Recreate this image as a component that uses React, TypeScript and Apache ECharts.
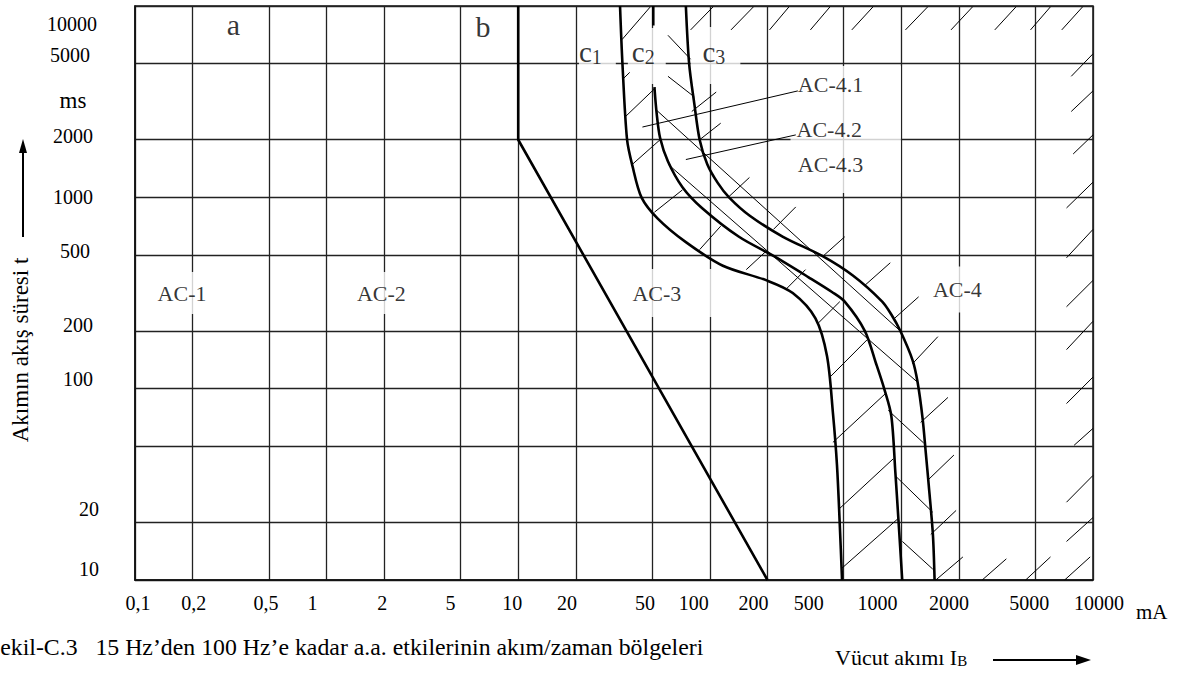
import React, { useEffect, useRef } from 'react';
import * as echarts from 'echarts';

const FONT = 'Liberation Serif, Times New Roman, serif';

// Axis ticks (mA and ms)
const xTicks = [0.1, 0.2, 0.5, 1, 2, 5, 10, 20, 50, 100, 200, 500, 1000, 2000, 5000, 10000];
const yTicks = [10, 20, 50, 100, 200, 500, 1000, 2000, 5000, 10000];
const yLabelValues = [10, 20, 100, 200, 500, 1000, 2000, 5000, 10000];

// Boundary curves [current mA, time ms]
const curveB = [[10, 10000], [10, 2000], [200, 10]];
const curveC1 = [[34, 10000], [35, 5000], [37, 2000], [39.5, 1455], [44, 1000], [53.5, 774], [75, 583], [117, 439], [198, 368], [271, 316], [356, 233], [409, 148], [439, 75], [461, 40], [477, 19.3], [490, 10]];
const curveC2Top = [[50.7, 10000], [50.7, 7900]];
const curveC2 = [[51.4, 3770], [52.8, 2750], [55, 2050], [60.5, 1540], [72, 1130], [91, 880], [142, 622], [215, 494], [328, 382], [434, 320], [506, 285], [645, 200], [738, 135], [813, 100], [886, 72], [930, 36.5], [964, 21], [1010, 10]];
const curveC3 = [[75, 10000], [78, 5000], [83, 3090], [88.5, 2000], [97, 1490], [110, 1190], [126, 1000], [161, 804], [241, 622], [386, 494], [558, 390], [794, 285], [886, 244], [988, 200], [1143, 141], [1215, 108], [1290, 70], [1340, 46.5], [1390, 31], [1460, 17.3], [1490, 10]];

// Hatch strokes [[mA, ms], [mA, ms]]
const hatchC1C2 = [
  [[34.8, 6670], [48.8, 9870]], [[35.1, 4140], [38.2, 4500]], [[36.4, 2650], [52, 3730]],
  [[39.5, 1490], [55, 2000]], [[51.4, 836], [72, 1094]], [[88.5, 533], [114, 707]],
  [[155, 419], [198, 526]], [[250, 331], [316, 419]], [[368, 220], [477, 285]],
  [[424, 115], [662, 180]], [[439, 52.4], [823, 94]], [[477, 23.7], [907, 43]], [[488, 11.5], [964, 21]],
];
const hatchC2C3 = [
  [[60.5, 7030], [79.4, 5270]], [[60.5, 4290], [83, 3350]], [[52.8, 2850], [988, 200]],
  [[60.5, 1490], [1215, 108]], [[854, 77], [1307, 52]], [[930, 35], [1458, 22.6]], [[1012, 15.9], [1458, 11.4]],
];
const hatchC3Out = [
  [[80.5, 2810], [108, 3550]], [[88.5, 2000], [114, 2440]], [[126, 1010], [161, 1270]],
  [[215, 680], [281, 891]], [[391, 494], [506, 622]], [[645, 347], [875, 455]],
  [[907, 230], [1230, 302]], [[1143, 135], [1550, 187]], [[1260, 66.6], [1750, 90]],
  [[1372, 33.2], [1880, 45]], [[1423, 17.3], [1930, 23.1]],
];
const hatchTop = [
  [[79.4, 7500], [104, 9900]], [[129, 7500], [169, 9900]], [[205, 7500], [259, 9900]],
  [[335, 7500], [424, 9900]], [[551, 7500], [711, 9900]], [[1050, 7500], [1372, 9900]],
  [[1815, 7500], [2352, 9900]], [[3072, 7500], [3964, 9900]], [[4719, 7500], [5995, 9900]], [[6870, 7500], [8827, 9900]],
];
const hatchRight = [
  [[7700, 4290], [10000, 5625]], [[7700, 2810], [10000, 3600]], [[7880, 1685], [10000, 2120]],
  [[7275, 880], [10000, 1200]], [[7275, 483], [10000, 680]], [[7275, 268], [10000, 368]],
  [[7275, 160], [10000, 225]], [[7275, 83.6], [10000, 115]], [[7970, 50.6], [10000, 62]],
  [[7275, 25.5], [10000, 35.2]], [[7275, 15.9], [10000, 21.2]],
];
const hatchBottom = [
  [[1512, 10], [2094, 13.2]], [[2640, 10], [3530, 12.9]], [[4450, 10], [6000, 13.2]], [[7110, 10], [9665, 13.2]],
];
const leaders = [[[44.5, 2330], [288, 3600]], [[75, 1576], [281, 2120]]];

// Zone labels and their anchors [mA, ms]
const zoneLabels = ['a', 'b', 'AC-1', 'AC-2', 'AC-3', 'AC-4', 'AC-4.2', 'AC-4.1', 'AC-4.3'];
const zoneAnchors = [[0.326, 8000], [6.55, 7800], [0.176, 316], [1.93, 316], [63, 316], [1960, 330], [512, 2260], [288, 3900], [288, 1490]];
const curveLabels = ['1', '2', '3'];
const curveLabelAnchors = [[25.9, 5625], [46.9, 5480], [107, 5510]];

// ---- styles (not data) ----
const xLabelShift = [3, 1, -3, -14, -2, -10, -6, -9, -7, -16, -14, -35, -24, -10, -6, 6];
const yLabelPadR = [0, 0, 6, 6, 9, 6, 6, 9, 2];
const yLabelDy = [-11, -13, -10, -6, -4, 0, -4, -9, 18];

const zoneStyle: Record<string, any> = {
  'a': { fontSize: 30, backgroundColor: 'transparent' },
  'b': { fontSize: 30, backgroundColor: 'transparent' },
  'AC-1': { padding: [9, 4, 11, 4] },
  'AC-2': { padding: [9, 4, 11, 4] },
  'AC-3': { padding: [9, 34, 17, 5] },
  'AC-4': { padding: [7, 4, 17, 4] },
  'AC-4.2': { padding: [47, 39, 58, 6] },
  'AC-4.1': { align: 'left', backgroundColor: 'transparent' },
  'AC-4.3': { align: 'left', backgroundColor: 'transparent' },
};
const curveLabelPad = [[5, 14, 9, 0], [9, 11, 17, 4], [10, 15, 17, 12]];

function nearestIndex(arr: number[], v: number) {
  let best = 0;
  for (let i = 0; i < arr.length; i++) {
    if (Math.abs(Math.log10(arr[i]) - Math.log10(v)) < Math.abs(Math.log10(arr[best]) - Math.log10(v))) best = i;
  }
  return best;
}

function buildOption() {
  const xRich: Record<string, any> = {};
  xTicks.forEach((_, i) => {
    const s = xLabelShift[i];
    xRich['x' + i] = {
      fontSize: 20, fontFamily: FONT, color: '#000', lineHeight: 20,
      padding: s >= 0 ? [0, 0, 0, 2 * s] : [0, -2 * s, 0, 0],
    };
  });
  const yRich: Record<string, any> = {};
  yLabelValues.forEach((_, i) => {
    const dy = yLabelDy[i];
    yRich['y' + i] = {
      fontSize: 20, fontFamily: FONT, color: '#000', lineHeight: 20,
      padding: [dy > 0 ? 2 * dy : 0, yLabelPadR[i], dy < 0 ? -2 * dy : 0, 0],
    };
  });

  const toLines = (arr: number[][][]) => arr.map((c) => ({ coords: c }));

  const zoneData = zoneLabels.map((name, i) => {
    const st = zoneStyle[name] || {};
    return {
      name,
      value: zoneAnchors[i],
      label: {
        show: true,
        position: 'inside',
        formatter: name,
        fontSize: st.fontSize || 22,
        lineHeight: st.fontSize || 22,
        fontFamily: FONT,
        color: '#000',
        backgroundColor: st.backgroundColor || '#fff',
        padding: st.padding || 0,
        align: st.align || 'center',
        verticalAlign: 'middle',
      },
    };
  });
  const cData = curveLabels.map((n, i) => ({
    name: 'c' + n,
    value: curveLabelAnchors[i],
    label: {
      show: true,
      position: 'inside',
      formatter: '{c|c}{s|' + n + '}',
      backgroundColor: '#fff',
      padding: curveLabelPad[i],
      align: 'center',
      verticalAlign: 'middle',
      rich: {
        c: { fontSize: 29, lineHeight: 30, fontFamily: FONT, color: '#000' },
        s: { fontSize: 20, lineHeight: 20, fontFamily: FONT, color: '#000', verticalAlign: 'bottom' },
      },
    },
  }));

  const curveStyle = { color: '#000', width: 2.6 };
  const smoothCurve = { type: 'line', z: 5, silent: true, symbol: 'none', smooth: 0.3, lineStyle: curveStyle };

  return {
    animation: false,
    textStyle: { fontFamily: FONT },
    grid: {
      left: 135, right: 88, top: 6, bottom: 93, show: true, borderColor: '#111', borderWidth: 1.5,
      backgroundColor: 'transparent', containLabel: false, outerBoundsMode: 'none',
    },
    xAxis: {
      type: 'log', logBase: 10, min: 0.1, max: 10000,
      axisLine: { show: true, lineStyle: { color: '#111', width: 1.5 } },
      axisTick: { show: false, customValues: xTicks },
      splitLine: { show: true, lineStyle: { color: '#222', width: 1.3 } },
      axisLabel: {
        customValues: xTicks, margin: 13, color: '#000', fontFamily: FONT, fontSize: 20,
        showMinLabel: true, showMaxLabel: true, hideOverlap: false,
        formatter: (v: number) => {
          const i = nearestIndex(xTicks, v);
          const t = String(xTicks[i]).replace('.', ',');
          return '{x' + i + '|' + t + '}';
        },
        rich: xRich,
      },
      name: 'mA', nameLocation: 'end', nameGap: 43, nameMoveOverlap: false,
      nameTextStyle: { fontSize: 21, fontFamily: FONT, color: '#000', align: 'left', verticalAlign: 'top', padding: [21, 0, 0, 0] },
    },
    yAxis: {
      type: 'log', logBase: 10, min: 10, max: 10000,
      axisLine: { show: true, lineStyle: { color: '#111', width: 1.5 } },
      axisTick: { show: false, customValues: yTicks },
      splitLine: { show: true, lineStyle: { color: '#222', width: 1.3 } },
      axisLabel: {
        customValues: yLabelValues, margin: 36, color: '#000', fontFamily: FONT, fontSize: 20,
        showMinLabel: true, showMaxLabel: true, hideOverlap: false,
        formatter: (v: number) => {
          const i = nearestIndex(yLabelValues, v);
          return '{y' + i + '|' + yLabelValues[i] + '}';
        },
        rich: yRich,
      },
    },
    series: [
      { type: 'scatter', z: 2, silent: true, symbolSize: 1, itemStyle: { color: 'transparent' }, data: [...zoneData, ...cData] },
      {
        type: 'lines', coordinateSystem: 'cartesian2d', z: 4, silent: true, polyline: false,
        lineStyle: { color: '#000', width: 1, opacity: 1, curveness: 0 },
        data: [
          ...toLines(hatchC1C2), ...toLines(hatchC2C3), ...toLines(hatchC3Out),
          ...toLines(hatchTop), ...toLines(hatchRight), ...toLines(hatchBottom), ...toLines(leaders),
        ],
      },
      { type: 'line', z: 5, silent: true, symbol: 'none', lineStyle: curveStyle, data: curveB },
      { ...smoothCurve, data: curveC1 },
      { type: 'line', z: 5, silent: true, symbol: 'none', lineStyle: curveStyle, data: curveC2Top },
      { ...smoothCurve, data: curveC2 },
      { ...smoothCurve, data: curveC3 },
    ],
    graphic: [
      { type: 'text', x: 73, y: 100, style: { text: 'ms', fontSize: 23, fontFamily: FONT, fill: '#000', align: 'center', verticalAlign: 'middle' } },
      { type: 'text', x: 20, y: 350, rotation: Math.PI / 2, style: { text: 'Akımın akış süresi t', fontSize: 23, fontFamily: FONT, fill: '#000', align: 'center', verticalAlign: 'middle' } },
      { type: 'line', shape: { x1: 23, y1: 237, x2: 23, y2: 150 }, style: { stroke: '#000', lineWidth: 2 } },
      { type: 'polygon', shape: { points: [[23, 139], [19, 153], [27, 153]] }, style: { fill: '#000' } },
      {
        type: 'text', x: 835, y: 657,
        style: {
          text: '{n|Vücut akımı I}{s|B}', align: 'left', verticalAlign: 'middle',
          rich: {
            n: { fontSize: 22, lineHeight: 22, fontFamily: FONT, fill: '#000', color: '#000' },
            s: { fontSize: 15, lineHeight: 15, fontFamily: FONT, fill: '#000', color: '#000', verticalAlign: 'bottom', padding: [6, 0, 0, 0] },
          },
        },
      },
      { type: 'line', shape: { x1: 993, y1: 660, x2: 1080, y2: 660 }, style: { stroke: '#000', lineWidth: 2 } },
      { type: 'polygon', shape: { points: [[1091, 660], [1076, 655], [1076, 665]] }, style: { fill: '#000' } },
      {
        type: 'text', x: -13, y: 647,
        style: { text: 'Şekil-C.3\u00a0\u00a0\u00a015 Hz’den 100 Hz’e kadar a.a. etkilerinin akım/zaman bölgeleri', fontSize: 23.8, fontFamily: FONT, fill: '#000', align: 'left', verticalAlign: 'middle' },
      },
    ],
  };
}

export default function App() {
  const ref = useRef<HTMLDivElement>(null);
  useEffect(() => {
    const chart = echarts.init(ref.current as HTMLDivElement, null, { renderer: 'svg' });
    chart.setOption(buildOption() as any);
    return () => chart.dispose();
  }, []);
  return (
    <div
      ref={ref}
      style={{ position: 'absolute', left: 0, top: 0, width: 1181, height: 673, background: '#fff' }}
    />
  );
}
